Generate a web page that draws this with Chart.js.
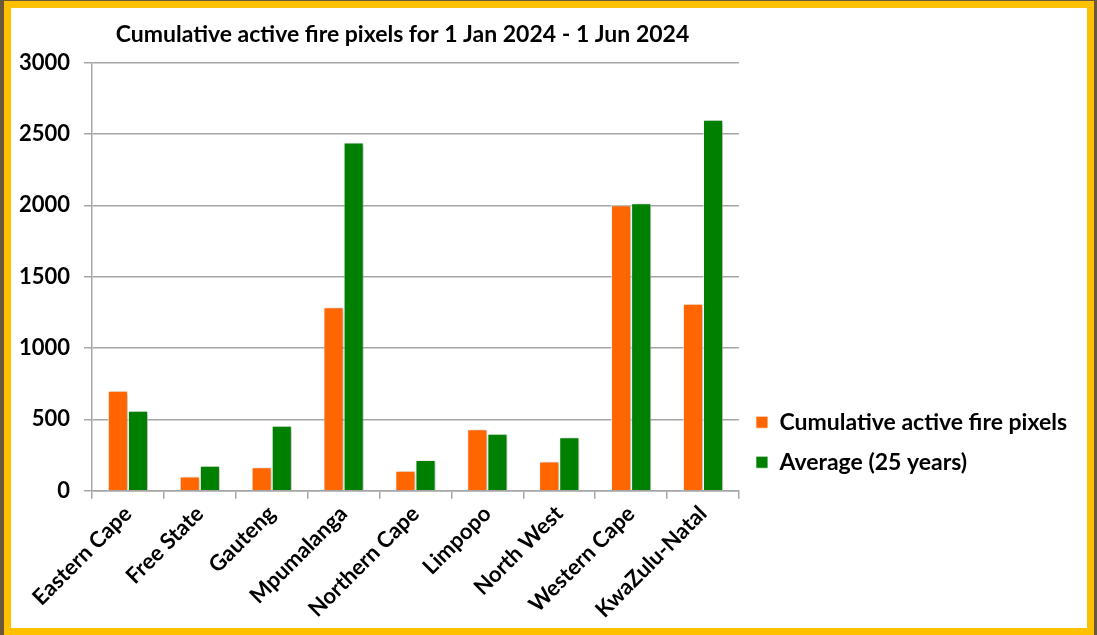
<!DOCTYPE html>
<html>
<head>
<meta charset="utf-8">
<script src="https://cdn.jsdelivr.net/npm/chart.js@4.4.1/dist/chart.umd.min.js"></script>
<style>
    html, body { margin: 0; padding: 0; background: #6a5838; width: 1097px; height: 635px; overflow: hidden; }
    #frame { position: absolute; left: 4px; top: 1px; width: 1076px; height: 620px; border: 7px solid #FFC000; background: #fff; }
    #chart { display: block; }
</style>
</head>
<body>
<div id="frame"><canvas id="chart" width="1076" height="620"></canvas></div>
<script>
const provinces = ["Eastern Cape", "Free State", "Gauteng", "Mpumalanga", "Northern Cape", "Limpopo", "North West", "Western Cape", "KwaZulu-Natal"]
const firePixels = [700, 100, 165, 1285, 140, 430, 205, 2000, 1310]
const average25 = [560, 175, 455, 2440, 215, 400, 375, 2015, 2600]
const yTicks = [0, 500, 1000, 1500, 2000, 2500, 3000]

const font = "Lato, 'Open Sans', sans-serif"

// soft shadow behind bars
const barShadow = {
    id: 'barShadow',
    beforeDatasetsDraw(chart) {
        const c = chart.ctx
        c.save()
        c.shadowColor = 'rgba(0,0,0,0.28)'
        c.shadowBlur = 4
        c.shadowOffsetX = 2
        c.shadowOffsetY = 1
    },
    afterDatasetsDraw(chart) {
        chart.ctx.restore()
    }
}

// title sits a bit left of the plot centre in the original
const titleShift = {
    id: 'titleShift',
    afterLayout(chart) {
        chart.titleBlock.left -= 13
        chart.titleBlock.right -= 13
    }
}

const ctx = document.querySelector('#chart').getContext('2d')
const chart = new Chart(ctx, {
    type: 'bar',
    data: {
        labels: provinces,
        datasets: [{
            label: 'Cumulative active fire pixels',
            data: firePixels,
            backgroundColor: '#FF6600',
            borderColor: 'rgba(255,255,255,0.7)',
            borderWidth: 1,
        }, {
            label: 'Average (25 years)',
            data: average25,
            backgroundColor: '#008000',
            borderColor: 'rgba(255,255,255,0.7)',
            borderWidth: 1,
        }]
    },
    options: {
        responsive: false,
        animation: false,
        categoryPercentage: 0.56,
        barPercentage: 1,
        layout: { padding: { left: 0, right: 10, top: 0, bottom: 3 } },
        scales: {
            x: {
                grid: {
                    offset: true,
                    drawOnChartArea: false,
                    color: '#A6A6A6',
                    lineWidth: 1.5,
                    tickLength: 8,
                },
                border: { color: '#A6A6A6', width: 1.5 },
                ticks: {
                    color: '#000',
                    maxRotation: 45,
                    minRotation: 45,
                    padding: 2,
                    font: { family: font, size: 22, weight: 'bold' }
                }
            },
            y: {
                min: 0,
                max: 3000,
                afterBuildTicks(axis) { axis.ticks = yTicks.map(v => ({ value: v })) },
                afterFit(axis) { axis.width = 81 },
                grid: { color: '#A6A6A6', lineWidth: 1.5, tickLength: 8 },
                border: { color: '#A6A6A6', width: 1.5 },
                ticks: {
                    color: '#000',
                    padding: 14,
                    callback: v => String(v),
                    font: { family: font, size: 22, weight: 'bold' }
                }
            }
        },
        plugins: {
            legend: {
                position: 'right',
                align: 'end',
                fullSize: false,
                maxWidth: 420,
                labels: {
                    color: '#000',
                    boxWidth: 12,
                    boxHeight: 12,
                    padding: 17,
                    font: { family: font, size: 23, weight: 'bold' }
                }
            },
            title: {
                display: true,
                fullSize: false,
                text: 'Cumulative active fire pixels for 1 Jan 2024 - 1 Jun 2024',
                color: '#000',
                padding: { top: 13, bottom: 14 },
                font: { family: font, size: 23, weight: 'bold' }
            },
            tooltip: { enabled: false }
        }
    },
    plugins: [barShadow, titleShift]
})
</script>
</body>
</html>
